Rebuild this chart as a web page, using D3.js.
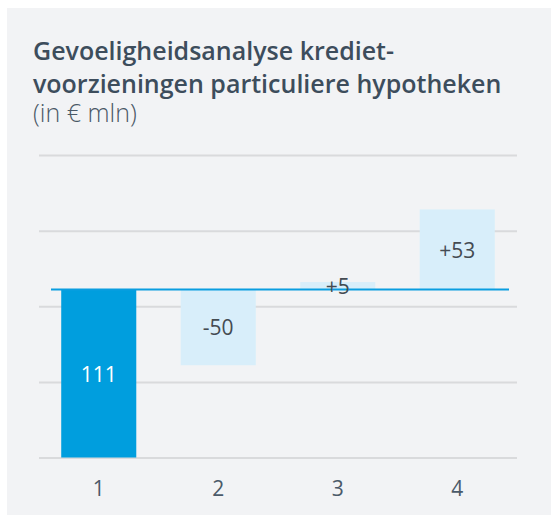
<!DOCTYPE html>
<html>
<head>
<meta charset="utf-8">
<script src="https://cdn.jsdelivr.net/npm/d3@7"></script>
<style>
  html, body { margin: 0; padding: 0; background: #fff; }
  svg { display: block; font-family: "Open Sans", sans-serif; }
</style>
</head>
<body>
<div id="chart"></div>
<script>
// data
var categories = ["1", "2", "3", "4"];
var baseValue = 111;
var changes = [111, -50, 5, 53];
var labels = ["111", "-50", "+5", "+53"];
var gridTicks = [0, 50, 100, 150, 200];

var width = 551,
    height = 516;

var svg = d3.select("#chart")
  .append("svg")
  .attr("width", width)
  .attr("height", height);

// panel background
svg.append("rect")
  .attr("x", 7).attr("y", 8)
  .attr("width", width - 7).attr("height", 507)
  .style("fill", "#f2f3f5");

// title
svg.append("text")
  .attr("x", 33).attr("y", 60)
  .text("Gevoeligheidsanalyse krediet-")
  .style("font-size", "25px").style("font-weight", 600).style("fill", "#3d4d5c");
svg.append("text")
  .attr("x", 33).attr("y", 92.5)
  .text("voorzieningen particuliere hypotheken")
  .style("font-size", "25px").style("font-weight", 600).style("fill", "#3d4d5c");
svg.append("text")
  .attr("x", 33).attr("y", 121.5)
  .text("(in € mln)")
  .style("font-size", "25px").style("font-weight", 300).style("fill", "#4a5866");

var xScale = d3.scaleBand()
  .domain(categories)
  .range([39, 517])
  .paddingInner(0.372)
  .paddingOuter(0.186);

var yScale = d3.scaleLinear()
  .domain([0, 200])
  .range([457.5, 155]);

// gridlines
svg.append("g")
  .attr("class", "grid")
  .attr("transform", "translate(39,0)")
  .call(d3.axisLeft(yScale).tickValues(gridTicks).tickSize(-(517 - 39)).tickFormat(""))
  .call(g => g.select(".domain").remove())
  .call(g => g.selectAll("line").style("stroke", "#d9dadc").style("stroke-width", 2));

// bars: first is the total, the rest start from the base value
var bars = categories.map(function(c, i) {
  var from = i === 0 ? 0 : baseValue;
  var to = i === 0 ? changes[i] : baseValue + changes[i];
  return {cat: c, from: from, to: to, label: labels[i], total: i === 0};
});

svg.selectAll(".bar")
  .data(bars)
  .enter().append("rect")
  .attr("class", "bar")
  .attr("x", d => xScale(d.cat))
  .attr("y", d => yScale(Math.max(d.from, d.to)))
  .attr("width", xScale.bandwidth())
  .attr("height", d => Math.abs(yScale(d.from) - yScale(d.to)))
  .style("fill", d => d.total ? "#009ede" : "#d8eefa");

// reference line at the base value
svg.append("line")
  .attr("x1", 51).attr("x2", 509)
  .attr("y1", yScale(baseValue)).attr("y2", yScale(baseValue))
  .style("stroke", "#0a9de0").style("stroke-width", 2);

// value labels
svg.selectAll(".val")
  .data(bars)
  .enter().append("text")
  .attr("class", "val")
  .attr("x", d => xScale(d.cat) + xScale.bandwidth() / 2)
  .attr("y", d => (yScale(d.from) + yScale(d.to)) / 2)
  .attr("text-anchor", "middle")
  .attr("dominant-baseline", "central")
  .text(d => d.label)
  .style("font-size", "21px")
  .style("fill", d => d.total ? "#ffffff" : "#444b52");

// x axis
svg.append("g")
  .attr("class", "x axis")
  .attr("transform", "translate(0,488)")
  .call(d3.axisBottom(xScale).tickSize(0).tickPadding(0))
  .call(g => g.select(".domain").remove())
  .call(g => g.selectAll("text")
    .attr("dy", null)
    .attr("dominant-baseline", "central")
    .style("font-size", "21px")
    .style("font-family", "'Open Sans', sans-serif")
    .style("fill", "#4b5a69"));
</script>
</body>
</html>
